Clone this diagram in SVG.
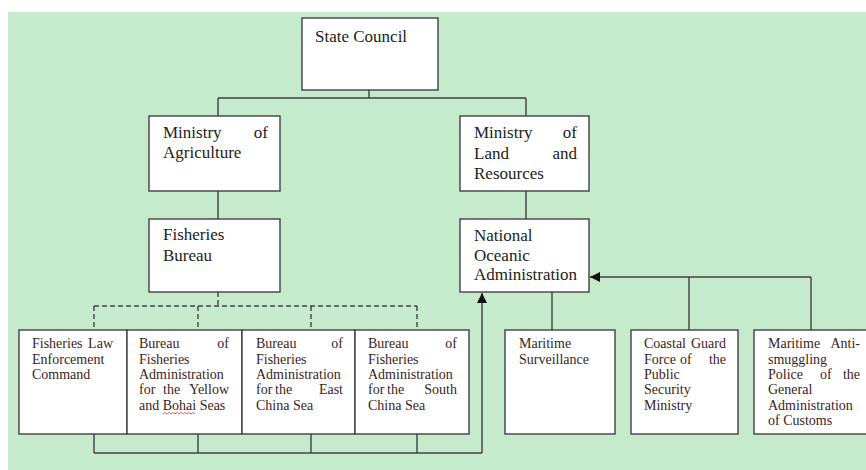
<svg xmlns="http://www.w3.org/2000/svg" width="866" height="470" viewBox="0 0 866 470">
<defs>
<style>
.box{fill:#ffffff;stroke:#404040;stroke-width:1.4}
.ln{fill:none;stroke:#404040;stroke-width:1.4}
.dash{fill:none;stroke:#404040;stroke-width:1.4;stroke-dasharray:5,3}
.t{font-family:"Liberation Serif","Times New Roman",serif;font-size:17px;fill:#222222}
.s{font-family:"Liberation Serif","Times New Roman",serif;font-size:14px;fill:#3a2424}
.e{text-anchor:end}
</style>
<marker id="arr" viewBox="0 0 10 10" refX="10" refY="5" markerWidth="10" markerHeight="10" markerUnits="userSpaceOnUse" orient="auto">
<path d="M0,0 L10,5 L0,10 z" fill="#111111"/>
</marker>
</defs>
<rect x="0" y="0" width="866" height="470" fill="#ffffff"/>
<rect x="8" y="12" width="858" height="458" fill="#c6ebcc"/>

<g id="connectors">
<path class="ln" d="M369,90 V98 M218,98 H526 M218,98 V116 M526,98 V116"/>
<path class="ln" d="M218,191 V219 M526,191 V219"/>
<path class="dash" d="M218,292 V306 M94,306 H417 M94,306 V330 M198,306 V330 M311,306 V330 M417,306 V330"/>
<path class="ln" d="M94,434 V453 M198,434 V453 M311,434 V453 M417,434 V453 M94,453 H482"/>
<path class="ln" d="M482,453 V293" marker-end="url(#arr)"/>
<path class="ln" d="M552,292 V330"/>
<path class="ln" d="M689,330 V277 M811,330 V277 M811,277 H590" marker-end="url(#arr)"/>
</g>

<g id="state-council">
<rect class="box" x="302" y="18" width="136" height="72"/>
<text class="t" x="315" y="42">State Council</text>
</g>

<g id="ministry-agriculture">
<rect class="box" x="149" y="116" width="131" height="75"/>
<text class="t" x="163" y="138">Ministry</text>
<text class="t e" x="268" y="138">of</text>
<text class="t" x="163" y="158">Agriculture</text>
</g>

<g id="ministry-land">
<rect class="box" x="460" y="116" width="129" height="75"/>
<text class="t" x="474" y="138">Ministry</text>
<text class="t e" x="577" y="138">of</text>
<text class="t" x="474" y="159">Land</text>
<text class="t e" x="577" y="159">and</text>
<text class="t" x="474" y="179">Resources</text>
</g>

<g id="fisheries-bureau">
<rect class="box" x="149" y="219" width="131" height="73"/>
<text class="t" x="163" y="240">Fisheries</text>
<text class="t" x="163" y="261">Bureau</text>
</g>

<g id="noa">
<rect class="box" x="460" y="219" width="129" height="73"/>
<text class="t" x="474" y="241">National</text>
<text class="t" x="474" y="261">Oceanic</text>
<text class="t" x="474" y="280">Administration</text>
</g>

<g id="fisheries-law">
<rect class="box" x="19" y="330" width="108" height="104"/>
<text class="s" x="32" y="348">Fisheries</text>
<text class="s e" x="113" y="348">Law</text>
<text class="s" x="32" y="364">Enforcement</text>
<text class="s" x="32" y="379">Command</text>
</g>

<g id="bureau-yellow">
<rect class="box" x="127" y="330" width="115" height="104"/>
<text class="s" x="139" y="348">Bureau</text>
<text class="s e" x="229" y="348">of</text>
<text class="s" x="139" y="364">Fisheries</text>
<text class="s" x="139" y="379">Administration</text>
<text class="s" x="139" y="394">for</text>
<text class="s" x="163" y="394">the</text>
<text class="s e" x="229" y="394">Yellow</text>
<text class="s" x="139" y="410">and Bohai Seas</text>
<path d="M163,414 l2,-1.5 l2,1.5 l2,-1.5 l2,1.5 l2,-1.5 l2,1.5 l2,-1.5 l2,1.5 l2,-1.5 l2,1.5 l2,-1.5 l2,1.5 l2,-1.5 l2,1.5 l2,-1.5 l2,1.5" fill="none" stroke="#d04040" stroke-width="0.8"/>
</g>

<g id="bureau-east">
<rect class="box" x="242" y="330" width="113" height="104"/>
<text class="s" x="256" y="348">Bureau</text>
<text class="s e" x="343" y="348">of</text>
<text class="s" x="256" y="364">Fisheries</text>
<text class="s" x="256" y="379">Administration</text>
<text class="s" x="256" y="394">for</text>
<text class="s" x="275" y="394">the</text>
<text class="s e" x="343" y="394">East</text>
<text class="s" x="256" y="410">China Sea</text>
</g>

<g id="bureau-south">
<rect class="box" x="355" y="330" width="114" height="104"/>
<text class="s" x="368" y="348">Bureau</text>
<text class="s e" x="457" y="348">of</text>
<text class="s" x="368" y="364">Fisheries</text>
<text class="s" x="368" y="379">Administration</text>
<text class="s" x="368" y="394">for</text>
<text class="s" x="387" y="394">the</text>
<text class="s e" x="457" y="394">South</text>
<text class="s" x="368" y="410">China Sea</text>
</g>

<g id="maritime-surveillance">
<rect class="box" x="505" y="330" width="110" height="104"/>
<text class="s" x="519" y="348">Maritime</text>
<text class="s" x="519" y="364">Surveillance</text>
</g>

<g id="coastal-guard">
<rect class="box" x="631" y="330" width="107" height="104"/>
<text class="s" x="644" y="348">Coastal</text>
<text class="s e" x="726" y="348">Guard</text>
<text class="s" x="644" y="364">Force</text>
<text class="s" x="680" y="364">of</text>
<text class="s e" x="726" y="364">the</text>
<text class="s" x="644" y="379">Public</text>
<text class="s" x="644" y="394">Security</text>
<text class="s" x="644" y="410">Ministry</text>
</g>

<g id="anti-smuggling">
<rect class="box" x="754" y="330" width="120" height="104"/>
<text class="s" x="768" y="348">Maritime</text>
<text class="s e" x="860" y="348">Anti-</text>
<text class="s" x="768" y="364">smuggling</text>
<text class="s" x="768" y="379">Police</text>
<text class="s" x="820" y="379">of</text>
<text class="s e" x="860" y="379">the</text>
<text class="s" x="768" y="394">General</text>
<text class="s" x="768" y="410">Administration</text>
<text class="s" x="768" y="425">of Customs</text>
</g>
</svg>
